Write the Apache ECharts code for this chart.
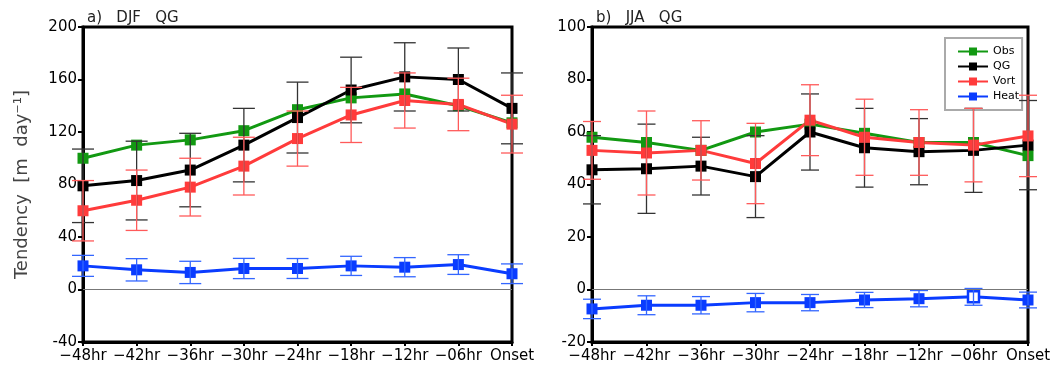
<!DOCTYPE html>
<html>
<head>
<meta charset="utf-8">
<script src="https://cdn.jsdelivr.net/npm/echarts@6/dist/echarts.min.js"></script>
<style>
html,body{margin:0;padding:0;background:#fff}
#chart{width:1062px;height:371px}
</style>
</head>
<body>
<div id="chart"></div>
<script>
let $ = a=>document.querySelector(a)

// 横轴
const hours = ['−48hr','−42hr','−36hr','−30hr','−24hr','−18hr','−12hr','−06hr','Onset']

// a) DJF
const djfObs  = [100, 110, 114, 121, 137, 146, 149, 140, 127]
const djfQG   = [79, 83, 91, 110, 131, 152, 162, 160, 138]
const djfVort = [60, 68, 78, 94, 115, 133, 144, 141, 126]
const djfHeat = [18, 15, 13, 16, 16, 18, 17, 19, 12]
const djfQGErr   = [28, 30, 28, 28, 27, 25, 26, 24, 27]
const djfVortErr = [23, 23, 22, 22, 21, 21, 21, 20, 22]
const djfHeatErr = [8, 8.5, 8.5, 7.7, 7.6, 7.3, 7.3, 7.5, 7.5]

// b) JJA
const jjaObs  = [58, 56, 53, 60, 63, 59.5, 56, 56, 51]
const jjaQG   = [45.6, 46, 47, 43, 60, 54, 52.5, 53, 55]
const jjaVort = [53, 52, 53, 48, 64.5, 58, 56, 55, 58.5]
const jjaHeat = [-7.4, -6, -6, -5, -5, -4, -3.5, -2.8, -4]
const jjaQGErr   = [13, 17, 11, 15.6, 14.5, 15, 12.6, 16, 17]
const jjaVortErr = [11, 16, 11.3, 15.3, 13.5, 14.5, 12.5, 14, 15.5]
const jjaHeatErr = [3.7, 3.6, 3.3, 3.5, 3.1, 2.9, 3.1, 3.2, 3]

const names = ['Obs', 'QG', 'Vort', 'Heat']
const colors = {Obs: '#129912', QG: '#000000', Vort: '#ff3b3b', Heat: '#0a3cff'}
const barColors = {QG: '#333333', Vort: '#ff5a5a', Heat: '#3366ff'}

function lineSeries(name, data, idx, extra) {
    return Object.assign({
        name: name,
        type: 'line',
        xAxisIndex: idx,
        yAxisIndex: idx,
        data: data,
        symbol: 'rect',
        symbolSize: 11,
        lineStyle: {color: colors[name], width: 3},
        itemStyle: {color: colors[name]},
        z: 3
    }, extra || {})
}

// 误差棒
function errSeries(name, mean, err, idx, cap) {
    return {
        type: 'custom',
        xAxisIndex: idx,
        yAxisIndex: idx,
        silent: true,
        z: 4,
        data: mean.map((m, i) => [i, m - err[i], m + err[i]]),
        renderItem: function (params, api) {
            let lo = api.coord([api.value(0), api.value(1)])
            let hi = api.coord([api.value(0), api.value(2)])
            let st = {stroke: barColors[name], lineWidth: 1.3}
            return {
                type: 'group',
                children: [
                    {type: 'line', shape: {x1: lo[0], y1: lo[1], x2: hi[0], y2: hi[1]}, style: st},
                    {type: 'line', shape: {x1: lo[0] - cap, y1: lo[1], x2: lo[0] + cap, y2: lo[1]}, style: st},
                    {type: 'line', shape: {x1: hi[0] - cap, y1: hi[1], x2: hi[0] + cap, y2: hi[1]}, style: st}
                ]
            }
        }
    }
}

const zeroLine = {
    silent: true,
    symbol: 'none',
    label: {show: false},
    lineStyle: {color: '#777', width: 1, type: 'solid'},
    data: [{yAxis: 0}]
}

const font = 'DejaVu Sans, sans-serif'

function xAx(idx) {
    return {
        type: 'category', gridIndex: idx, data: hours, boundaryGap: false,
        axisLine: {onZero: false, lineStyle: {color: '#000', width: 3}},
        axisTick: {show: true, length: 4, lineStyle: {color: '#000', width: 2}},
        axisLabel: {color: '#000', fontSize: 15, fontFamily: font, margin: 7, interval: 0},
        splitLine: {show: false}
    }
}
function yAx(idx, min, max, step, extra) {
    return Object.assign({
        type: 'value', gridIndex: idx, min: min, max: max, interval: step,
        axisLine: {show: true, onZero: false, lineStyle: {color: '#000', width: 3}},
        axisTick: {show: true, length: 5, lineStyle: {color: '#000', width: 2}},
        axisLabel: {color: '#000', fontSize: 15, fontFamily: font, margin: 6},
        splitLine: {show: false}
    }, extra || {})
}

// heat 在 -06hr 为空心方块
const jjaHeatData = jjaHeat.map((v, i) => i === 7
    ? {value: v, itemStyle: {color: '#fff', borderColor: colors.Heat, borderWidth: 2.5}}
    : v)

echarts.init($('#chart')).setOption({
    animation: false,
    title: [
        {text: 'a)   DJF   QG', left: 82, top: 6, textStyle: {fontSize: 15, fontWeight: 'normal', color: '#222', fontFamily: font}},
        {text: 'b)   JJA   QG', left: 591, top: 6, textStyle: {fontSize: 15, fontWeight: 'normal', color: '#222', fontFamily: font}}
    ],
    legend: {
        data: names,
        orient: 'vertical',
        left: 945, top: 38,
        padding: [8, 3, 8, 12],
        itemGap: 4,
        itemWidth: 30,
        itemHeight: 10,
        backgroundColor: '#fff',
        borderColor: '#aaa',
        borderWidth: 2,
        borderRadius: 0,
        textStyle: {fontSize: 11, color: '#000', fontFamily: font},
        selectedMode: false
    },
    grid: [
        {left: 83, top: 27, width: 429, height: 315, show: true, borderColor: '#000', borderWidth: 3, backgroundColor: 'transparent'},
        {left: 592, top: 27, width: 436, height: 315, show: true, borderColor: '#000', borderWidth: 3, backgroundColor: 'transparent'}
    ],
    xAxis: [xAx(0), xAx(1)],
    yAxis: [
        yAx(0, -40, 200, 40, {
            name: 'Tendency  [m  day⁻¹]', nameLocation: 'middle', nameGap: 52, nameRotate: 90,
            nameTextStyle: {fontSize: 18, color: '#444', fontFamily: font, fontWeight: 'normal'}
        }),
        yAx(1, -20, 100, 20)
    ],
    series: [
        lineSeries('Obs', djfObs, 0),
        lineSeries('QG', djfQG, 0),
        lineSeries('Vort', djfVort, 0),
        lineSeries('Heat', djfHeat, 0, {markLine: zeroLine}),
        errSeries('QG', djfQG, djfQGErr, 0, 11),
        errSeries('Vort', djfVort, djfVortErr, 0, 11),
        errSeries('Heat', djfHeat, djfHeatErr, 0, 11),

        lineSeries('Obs', jjaObs, 1),
        lineSeries('QG', jjaQG, 1),
        lineSeries('Vort', jjaVort, 1),
        lineSeries('Heat', jjaHeatData, 1, {markLine: zeroLine}),
        errSeries('QG', jjaQG, jjaQGErr, 1, 9),
        errSeries('Vort', jjaVort, jjaVortErr, 1, 9),
        errSeries('Heat', jjaHeat, jjaHeatErr, 1, 9)
    ]
})
</script>
</body>
</html>
